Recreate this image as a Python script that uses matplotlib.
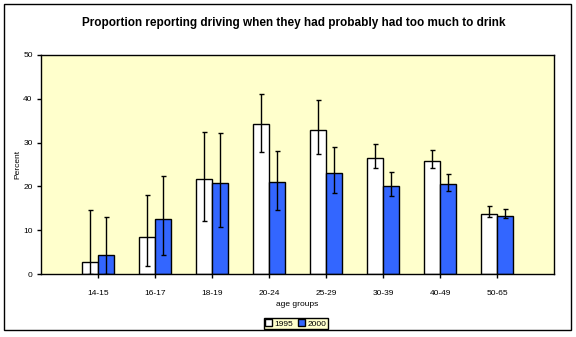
import matplotlib.pyplot as plt
from matplotlib.patches import Rectangle
import numpy as np

# data
groups = ['14-15', '16-17', '18-19', '20-24', '25-29', '30-39', '40-49', '50-65']
p1995 = [2.8, 8.6, 21.6, 34.2, 32.8, 26.4, 25.7, 13.7]
lo1995 = [0.0, 1.8, 12.1, 27.8, 27.3, 24.1, 24.1, 13.0]
hi1995 = [14.6, 18.0, 32.3, 41.0, 39.6, 29.6, 28.2, 15.5]
p2000 = [4.3, 12.5, 20.7, 21.0, 23.0, 20.0, 20.5, 13.2]
lo2000 = [0.0, 4.5, 10.7, 14.6, 18.5, 17.8, 18.9, 12.8]
hi2000 = [13.0, 22.3, 32.1, 28.0, 28.9, 23.3, 22.8, 14.8]

plt.rcParams['font.family'] = ['Liberation Sans', 'DejaVu Sans']

fig = plt.figure(figsize=(5.76, 3.37), dpi=100)
ax = fig.add_axes([0.0712, 0.186, 0.8906, 0.6516])
ax.set_facecolor('#FFFFCC')

x = np.arange(1, len(groups) + 1)
w = 0.28
p1995 = np.array(p1995); p2000 = np.array(p2000)
err95 = [p1995 - np.array(lo1995), np.array(hi1995) - p1995]
err00 = [p2000 - np.array(lo2000), np.array(hi2000) - p2000]

ax.bar(x - w/2, p1995, w, color='white', edgecolor='black', linewidth=1, label='1995', zorder=2)
ax.bar(x + w/2, p2000, w, color='#3366FF', edgecolor='black', linewidth=1, label='2000', zorder=2)
ax.errorbar(x - w/2, p1995, yerr=err95, fmt='none', ecolor='black', elinewidth=1, capsize=1.8, capthick=1, zorder=3)
ax.errorbar(x + w/2, p2000, yerr=err00, fmt='none', ecolor='black', elinewidth=1, capsize=1.8, capthick=1, zorder=3)

ax.set_xlim(0, 9)
ax.set_ylim(0, 50)
ax.set_xticks(x)
ax.set_xticklabels(groups, fontsize=6)
ax.set_yticks(range(0, 51, 10))
ax.tick_params(axis='y', labelsize=6, length=3, width=1, pad=3)
ax.tick_params(axis='x', length=3, width=1, pad=8)
for s in ax.spines.values():
    s.set_linewidth(1)
    s.set_color('black')

ax.set_ylabel('Percent', fontsize=6, labelpad=1)
ax.set_xlabel('age groups', fontsize=6, labelpad=3)
fig.text(0.51, 0.932, 'Proportion reporting driving when they had probably had too much to drink',
         ha='center', va='center', fontsize=8.5, fontweight='bold')

leg = ax.legend(loc='center', bbox_to_anchor=(0.497, -0.224), ncol=2, fontsize=6,
                frameon=True, fancybox=False, handlelength=0.8, handleheight=0.8,
                handletextpad=0.3, columnspacing=0.6, borderpad=0.2)
leg.get_frame().set_facecolor('#FFFFCC')
leg.get_frame().set_edgecolor('black')
leg.get_frame().set_linewidth(1)
leg.get_frame().set_alpha(1)

# outer chart border
fig.patches.append(Rectangle((4/576, 1 - 330/337), 567/576, 326/337, transform=fig.transFigure,
                             fill=False, edgecolor='black', linewidth=1))

fig.savefig('out.png', dpi=100)
